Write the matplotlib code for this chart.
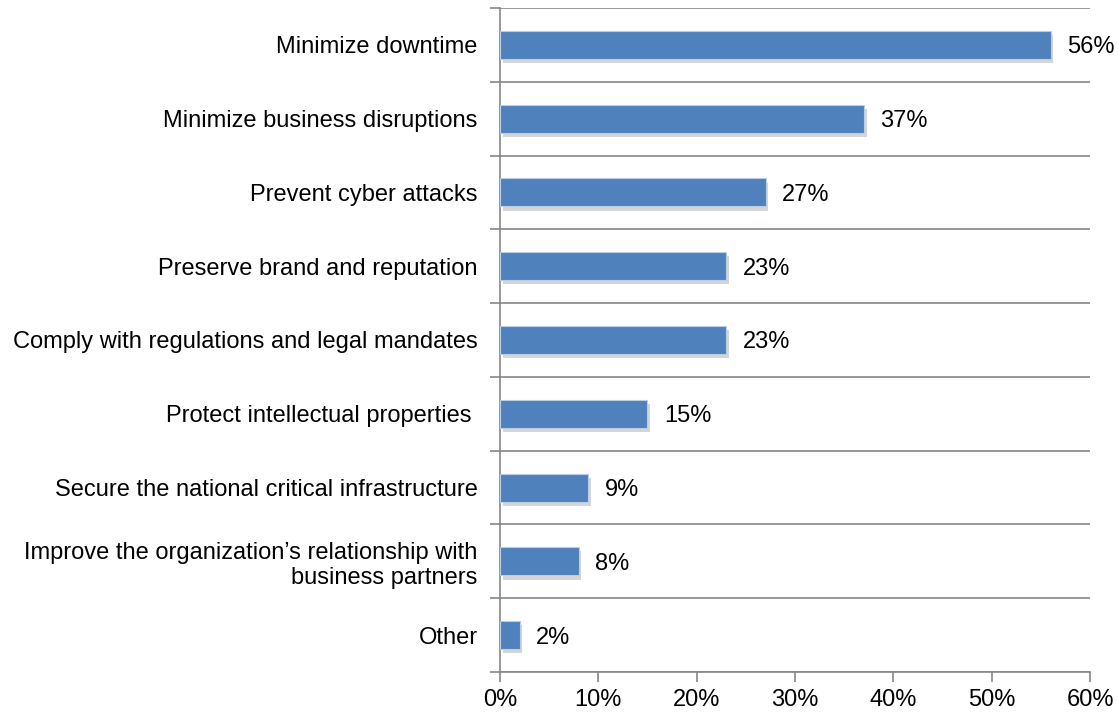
import matplotlib.pyplot as plt
import matplotlib.patheffects as pe
from matplotlib.ticker import PercentFormatter

# chart data, top to bottom
categories = [
    "Minimize downtime",
    "Minimize business disruptions",
    "Prevent cyber attacks",
    "Preserve brand and reputation",
    "Comply with regulations and legal mandates",
    "Protect intellectual properties ",
    "Secure the national critical infrastructure",
    "Improve the organization\u2019s relationship with\nbusiness partners",
    "Other",
]
values = [56, 37, 27, 23, 23, 15, 9, 8, 2]
xticks = [0, 10, 20, 30, 40, 50, 60]

plt.rcParams["font.family"] = ["Liberation Sans", "DejaVu Sans"]
FS = 17

fig = plt.figure(figsize=(11.18, 7.13), dpi=100)
ax = fig.add_axes([0.4472, 0.0575, 0.9750 - 0.4472, 0.9888 - 0.0575])

n = len(categories)
ypos = list(range(n))
bars = ax.barh(ypos, values, height=0.38, color="#4F81BD",
               edgecolor="#B9CDE5", linewidth=0.8, zorder=3)
for b in bars:
    b.set_path_effects([
        pe.SimplePatchShadow(offset=(2, -3), shadow_rgbFace="#777777", alpha=0.3),
        pe.Normal(),
    ])

for y, v in zip(ypos, values):
    ax.annotate(f"{v}%", (v, y), xytext=(12, 0), textcoords="offset points",
                va="center_baseline", ha="left", fontsize=FS)

ax.set_ylim(n - 0.5, -0.5)
ax.set_xlim(0, 60)
ax.set_xticks(xticks)
ax.xaxis.set_major_formatter(PercentFormatter(decimals=0))

# category separators act as gridlines
ax.set_yticks([i + 0.5 for i in range(-1, n)], minor=False)
ax.set_yticklabels([])
ax.set_yticks(ypos, minor=True)
ax.set_yticklabels(categories, minor=True)
ax.tick_params(axis="y", which="minor", length=0, pad=16, labelsize=FS)
ax.tick_params(axis="y", which="major", length=7, color="#868686", width=1.2)
ax.tick_params(axis="x", length=7, color="#868686", width=1.2, labelsize=FS, pad=5)
ax.yaxis.grid(True, which="major", color="#868686", linewidth=1.2, zorder=0)

for s in ["top", "right"]:
    ax.spines[s].set_visible(False)
for s in ["left", "bottom"]:
    ax.spines[s].set_color("#868686")
    ax.spines[s].set_linewidth(1.2)

fig.savefig("out.png", dpi=100)
